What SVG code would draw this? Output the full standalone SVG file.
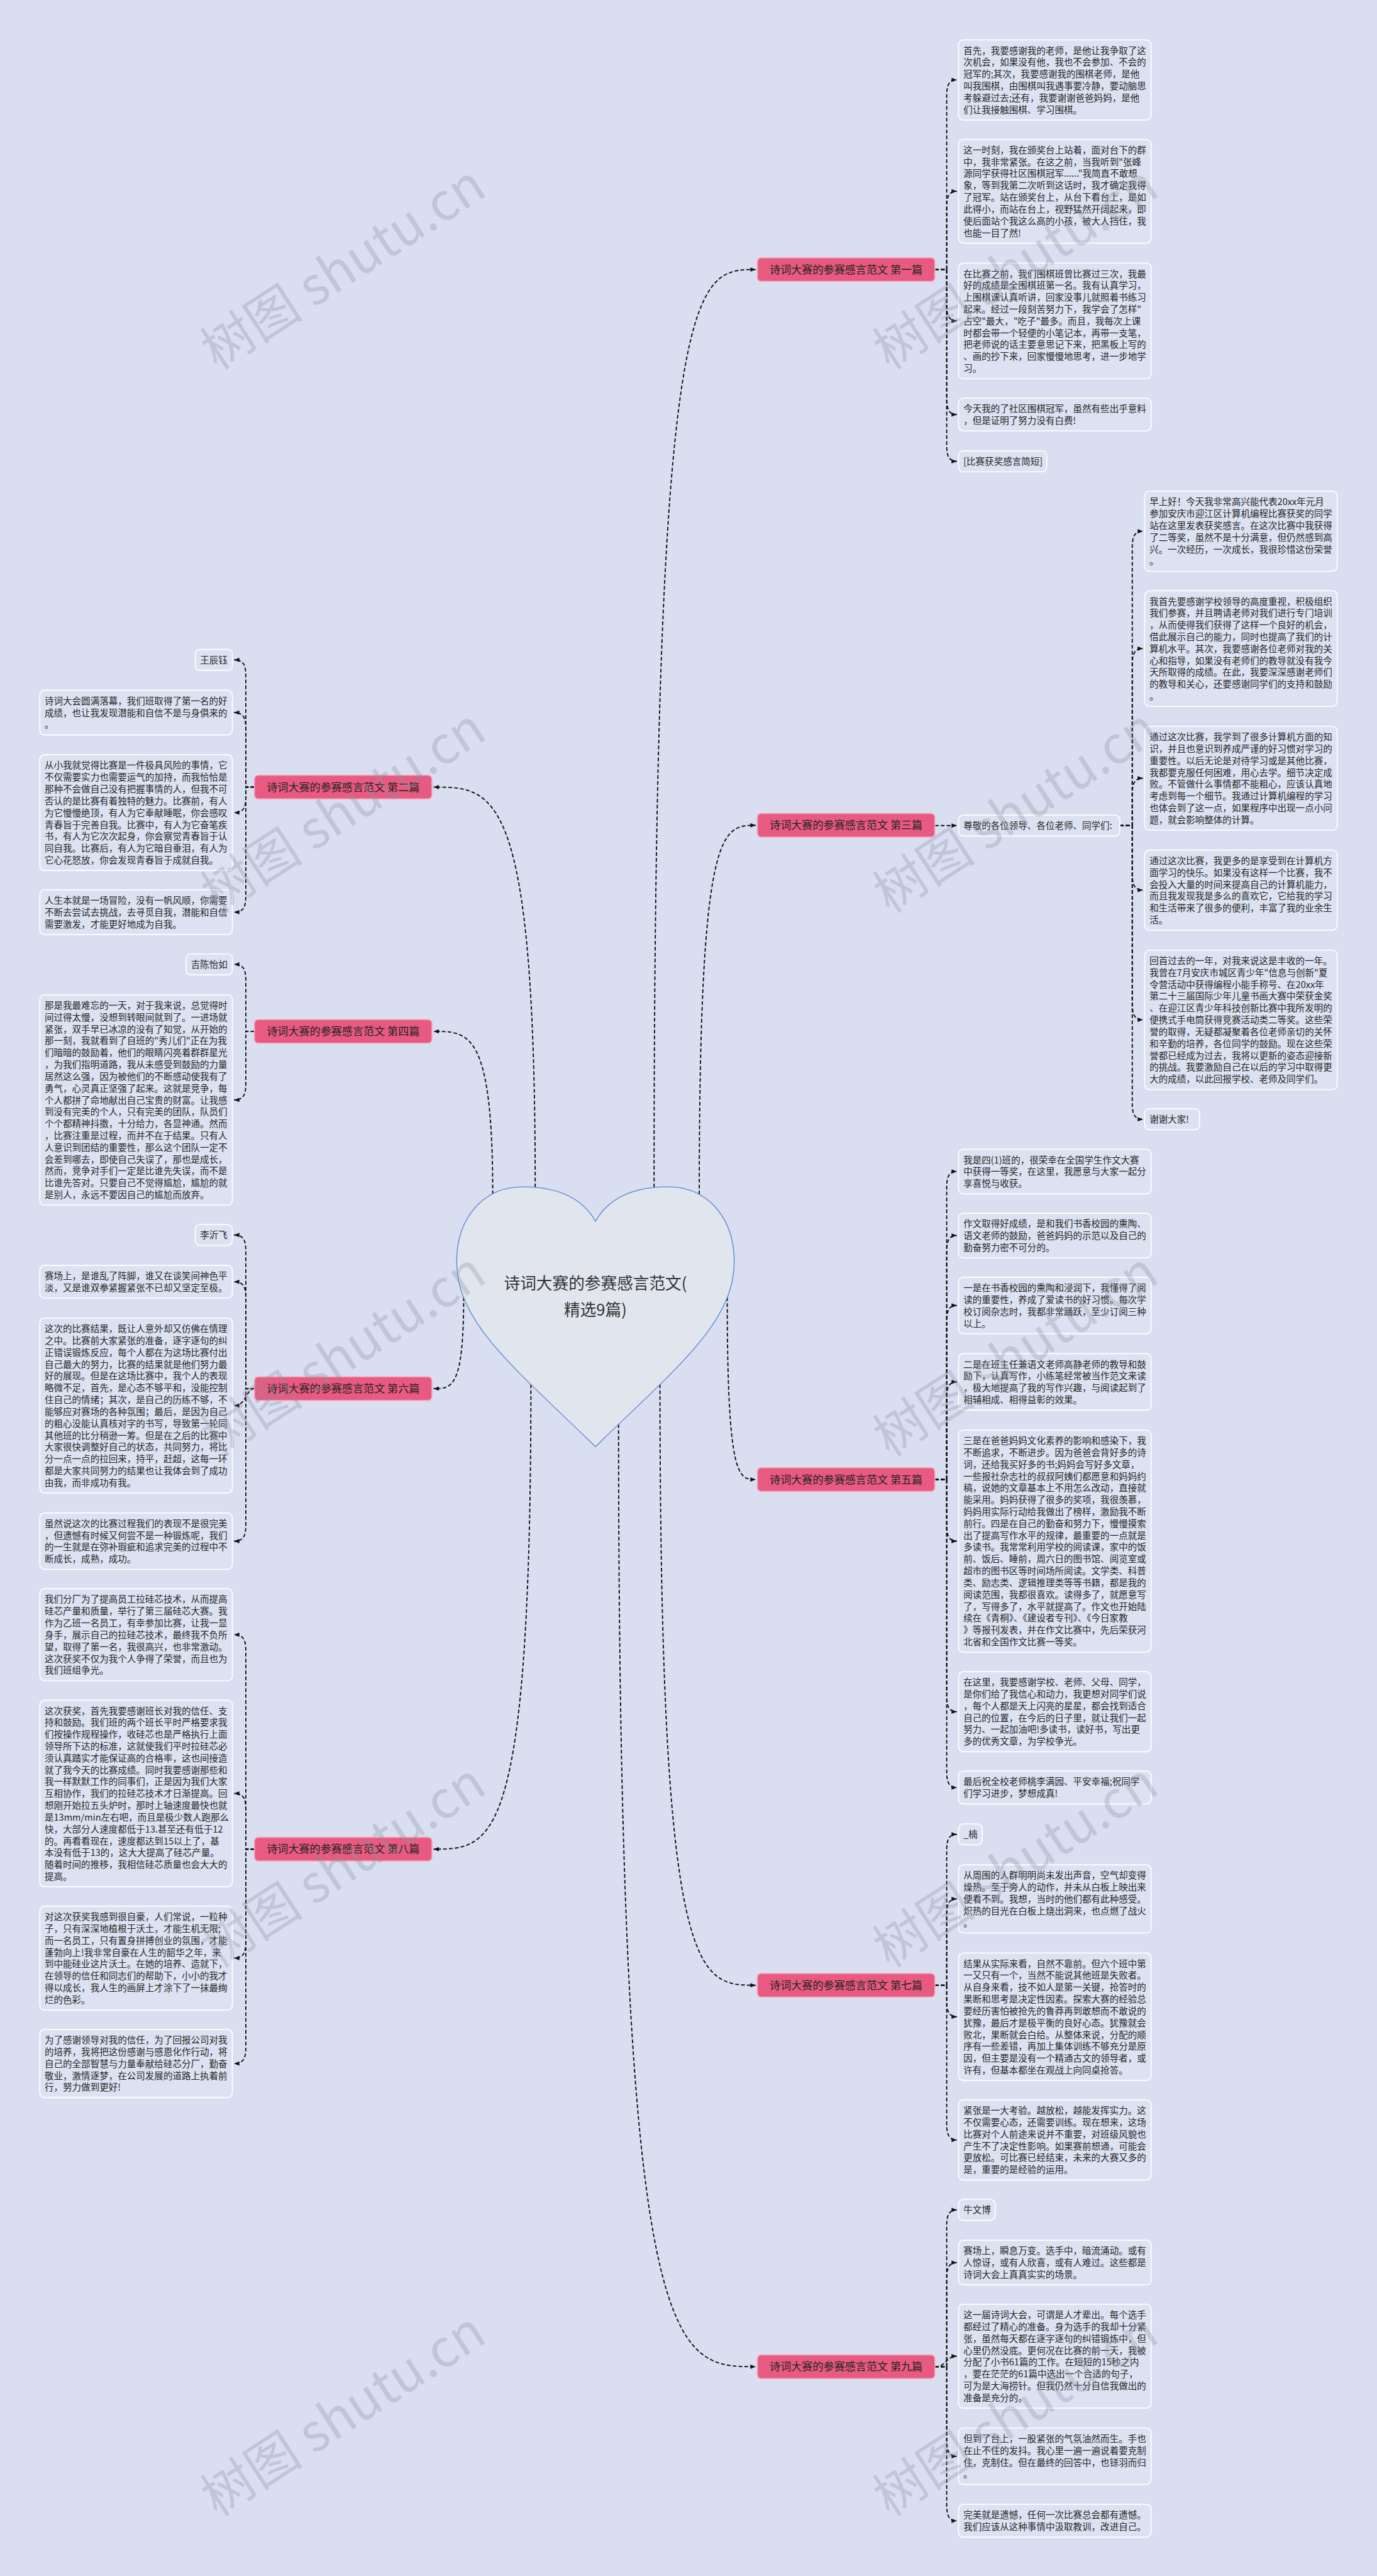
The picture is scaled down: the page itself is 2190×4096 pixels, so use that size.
<svg xmlns="http://www.w3.org/2000/svg" width="2190" height="4096" viewBox="0 0 2190 4096">
<style>
.bg{fill:#d9dff0}
.box{fill:#dce2f2;stroke:#ffffff;stroke-width:2}
.tx{font-family:"Noto Sans CJK SC","Noto Sans",sans-serif;font-size:17px;fill:#262626}
.lab rect{fill:#e85a80;stroke:#f5a9c0;stroke-width:2}
.lab text{font-family:"Noto Sans CJK SC","Noto Sans",sans-serif;font-size:20px;fill:#222222;text-anchor:middle}
.con path{fill:none;stroke:#111111;stroke-width:2.2;stroke-dasharray:7 4;marker-end:url(#ah)}
.ctr{font-family:"Noto Sans CJK SC","Noto Sans",sans-serif;font-size:30px;fill:#333333;text-anchor:middle}
.wm{font-family:"Noto Sans CJK SC","Liberation Sans",sans-serif;font-size:96px;fill:#8a90a0;opacity:0.3;text-anchor:middle}
</style>
<defs>
<marker id="ah" viewBox="0 0 10 8" refX="10" refY="4" markerWidth="10" markerHeight="8" markerUnits="userSpaceOnUse" orient="auto"><path d="M0,0 L10,4 L0,8 z" fill="#111111" stroke="none"/></marker>
</defs>
<rect class="bg" x="0" y="0" width="2190" height="4096"/>
<g transform="scale(0.85546875)">
<g id="connectors" class="con">
<path d="M1216 2207 C1216 501 1292 501 1405 501"/>
<path d="M1300 2220 C1300 1534 1342 1534 1405 1534"/>
<path d="M1352 2411 C1352 2750 1373 2750 1405 2750"/>
<path d="M1227 2573 C1227 3690 1298 3690 1405 3690"/>
<path d="M1150 2647 C1150 4399 1252 4399 1405 4399"/>
<path d="M995 2207 C995 1463 919 1463 806 1463"/>
<path d="M916 2220 C916 1917 872 1917 806 1917"/>
<path d="M862 2411 C862 2581 840 2581 806 2581"/>
<path d="M987 2573 C987 3437 915 3437 806 3437"/>
<path d="M1738 501 H1760 V178.5 C1760 158.5 1764 148.5 1779 148.5"/>
<path d="M1738 501 H1760 V385.5 C1760 365.5 1764 355.5 1779 355.5"/>
<path d="M1738 501 H1760 V566.5 C1760 586.5 1764 596.5 1779 596.5"/>
<path d="M1738 501 H1760 V740.5 C1760 760.5 1764 770.5 1779 770.5"/>
<path d="M1738 501 H1760 V827.5 C1760 847.5 1764 857.5 1779 857.5"/>
<path d="M1738 1534.5 L1779 1534.5"/>
<path d="M2082 1534.5 H2105 V1017.5 C2105 997.5 2109 987.5 2125 987.5"/>
<path d="M2082 1534.5 H2105 V1235.5 C2105 1215.5 2109 1205.5 2125 1205.5"/>
<path d="M2082 1534.5 H2105 V1476.5 C2105 1456.5 2109 1446.5 2125 1446.5"/>
<path d="M2082 1534.5 H2105 V1624.5 C2105 1644.5 2109 1654.5 2125 1654.5"/>
<path d="M2082 1534.5 H2105 V1865.5 C2105 1885.5 2109 1895.5 2125 1895.5"/>
<path d="M2082 1534.5 H2105 V2050.5 C2105 2070.5 2109 2080.5 2125 2080.5"/>
<path d="M1738 2750 H1760 V2207.5 C1760 2187.5 1764 2177.5 1779 2177.5"/>
<path d="M1738 2750 H1760 V2326.5 C1760 2306.5 1764 2296.5 1779 2296.5"/>
<path d="M1738 2750 H1760 V2456.5 C1760 2436.5 1764 2426.5 1779 2426.5"/>
<path d="M1738 2750 H1760 V2598.5 C1760 2578.5 1764 2568.5 1779 2568.5"/>
<path d="M1738 2750 H1760 V2834.5 C1760 2854.5 1764 2864.5 1779 2864.5"/>
<path d="M1738 2750 H1760 V3151.5 C1760 3171.5 1764 3181.5 1779 3181.5"/>
<path d="M1738 2750 H1760 V3292.5 C1760 3312.5 1764 3322.5 1779 3322.5"/>
<path d="M1738 3690 H1760 V3439.5 C1760 3419.5 1764 3409.5 1779 3409.5"/>
<path d="M1738 3690 H1760 V3559.5 C1760 3539.5 1764 3529.5 1779 3529.5"/>
<path d="M1738 3690 H1760 V3718.5 C1760 3738.5 1764 3748.5 1779 3748.5"/>
<path d="M1738 3690 H1760 V3947.5 C1760 3967.5 1764 3977.5 1779 3977.5"/>
<path d="M1738 4399 H1760 V4137.5 C1760 4117.5 1764 4107.5 1779 4107.5"/>
<path d="M1738 4399 H1760 V4235.5 C1760 4215.5 1764 4205.5 1779 4205.5"/>
<path d="M1738 4399 C1760 4399 1758 4379.5 1779 4379.5"/>
<path d="M1738 4399 H1760 V4535.5 C1760 4555.5 1764 4565.5 1779 4565.5"/>
<path d="M1738 4399 H1760 V4655.5 C1760 4675.5 1764 4685.5 1779 4685.5"/>
<path d="M473 1463 H457 V1256.5 C457 1236.5 453 1226.5 435 1226.5"/>
<path d="M473 1463 H457 V1354.5 C457 1334.5 453 1324.5 435 1324.5"/>
<path d="M473 1463 H457 V1480.5 C457 1500.5 453 1510.5 435 1510.5"/>
<path d="M473 1463 H457 V1665.5 C457 1685.5 453 1695.5 435 1695.5"/>
<path d="M473 1917 H457 V1822.5 C457 1802.5 453 1792.5 435 1792.5"/>
<path d="M473 1917 H457 V2014.5 C457 2034.5 453 2044.5 435 2044.5"/>
<path d="M473 2581 H457 V2325.5 C457 2305.5 453 2295.5 435 2295.5"/>
<path d="M473 2581 H457 V2412.5 C457 2392.5 453 2382.5 435 2382.5"/>
<path d="M473 2581 C457 2581 459 2612.5 435 2612.5"/>
<path d="M473 2581 H457 V2834.5 C457 2854.5 453 2864.5 435 2864.5"/>
<path d="M473 3437 H457 V3068.5 C457 3048.5 453 3038.5 435 3038.5"/>
<path d="M473 3437 H457 V3363.5 C457 3343.5 453 3333.5 435 3333.5"/>
<path d="M473 3437 H457 V3609.5 C457 3629.5 453 3639.5 435 3639.5"/>
<path d="M473 3437 H457 V3805.5 C457 3825.5 453 3835.5 435 3835.5"/>
</g>
<g id="center">
<path d="M1107 2270 C1080 2222 1030 2206 972 2206 C900 2206 849 2262 849 2345 C849 2460 960 2545 1107 2689 C1254 2545 1365 2460 1365 2345 C1365 2262 1314 2206 1242 2206 C1184 2206 1134 2222 1107 2270 Z" fill="#e1e5ee" stroke="#5b8ad0" stroke-width="1.6"/>
<text class="ctr" x="1107" y="2396">诗词大赛的参赛感言范文(</text>
<text class="ctr" x="1107" y="2445">精选9篇)</text>
</g>
<g id="label1" class="lab"><rect x="1408" y="479" width="330" height="44" rx="7"/><text x="1573" y="508">诗词大赛的参赛感言范文 第一篇</text></g>
<g id="label2" class="lab"><rect x="473" y="1441" width="330" height="44" rx="7"/><text x="638" y="1470">诗词大赛的参赛感言范文 第二篇</text></g>
<g id="label3" class="lab"><rect x="1408" y="1512" width="330" height="44" rx="7"/><text x="1573" y="1541">诗词大赛的参赛感言范文 第三篇</text></g>
<g id="label4" class="lab"><rect x="473" y="1895" width="330" height="44" rx="7"/><text x="638" y="1924">诗词大赛的参赛感言范文 第四篇</text></g>
<g id="label5" class="lab"><rect x="1408" y="2728" width="330" height="44" rx="7"/><text x="1573" y="2757">诗词大赛的参赛感言范文 第五篇</text></g>
<g id="label6" class="lab"><rect x="473" y="2559" width="330" height="44" rx="7"/><text x="638" y="2588">诗词大赛的参赛感言范文 第六篇</text></g>
<g id="label7" class="lab"><rect x="1408" y="3668" width="330" height="44" rx="7"/><text x="1573" y="3697">诗词大赛的参赛感言范文 第七篇</text></g>
<g id="label8" class="lab"><rect x="473" y="3415" width="330" height="44" rx="7"/><text x="638" y="3444">诗词大赛的参赛感言范文 第八篇</text></g>
<g id="label9" class="lab"><rect x="1408" y="4377" width="330" height="44" rx="7"/><text x="1573" y="4406">诗词大赛的参赛感言范文 第九篇</text></g>

<g id="c1"><rect class="box" x="1782" y="74" width="358" height="149" rx="9"/><text class="tx" y="100"><tspan x="1791">首先，我要感谢我的老师，是他让我争取了这</tspan><tspan x="1791" dy="22">次机会，如果没有他，我也不会参加、不会的</tspan><tspan x="1791" dy="22">冠军的;其次，我要感谢我的围棋老师，是他</tspan><tspan x="1791" dy="22">叫我围棋，由围棋叫我遇事要冷静，要动脑思</tspan><tspan x="1791" dy="22">考躲避过去;还有，我要谢谢爸爸妈妈，是他</tspan><tspan x="1791" dy="22">们让我接触围棋、学习围棋。</tspan></text></g>
<g id="c2"><rect class="box" x="1782" y="259" width="358" height="193" rx="9"/><text class="tx" y="285"><tspan x="1791">这一时刻，我在颁奖台上站着，面对台下的群</tspan><tspan x="1791" dy="22">中，我非常紧张。在这之前，当我听到"张峰</tspan><tspan x="1791" dy="22">源同学获得社区围棋冠军......"我简直不敢想</tspan><tspan x="1791" dy="22">象，等到我第二次听到这话时，我才确定我得</tspan><tspan x="1791" dy="22">了冠军。站在颁奖台上，从台下看台上，是如</tspan><tspan x="1791" dy="22">此得小，而站在台上，视野猛然开阔起来，即</tspan><tspan x="1791" dy="22">使后面站个我这么高的小孩，被大人挡住，我</tspan><tspan x="1791" dy="22">也能一目了然!</tspan></text></g>
<g id="c3"><rect class="box" x="1782" y="489" width="358" height="215" rx="9"/><text class="tx" y="515"><tspan x="1791">在比赛之前，我们围棋班曾比赛过三次，我最</tspan><tspan x="1791" dy="22">好的成绩是全围棋班第一名。我有认真学习，</tspan><tspan x="1791" dy="22">上围棋课认真听讲，回家没事儿就照着书练习</tspan><tspan x="1791" dy="22">起来。经过一段刻苦努力下，我学会了怎样"</tspan><tspan x="1791" dy="22">占空"最大，"吃子"最多。而且，我每次上课</tspan><tspan x="1791" dy="22">时都会带一个轻便的小笔记本，再带一支笔，</tspan><tspan x="1791" dy="22">把老师说的话主要意思记下来，把黑板上写的</tspan><tspan x="1791" dy="22">、画的抄下来，回家慢慢地思考，进一步地学</tspan><tspan x="1791" dy="22">习。</tspan></text></g>
<g id="c4"><rect class="box" x="1782" y="740" width="358" height="61" rx="9"/><text class="tx" y="766"><tspan x="1791">今天我的了社区围棋冠军，虽然有些出乎意料</tspan><tspan x="1791" dy="22">，但是证明了努力没有白费!</tspan></text></g>
<g id="c5"><rect class="box" x="1782" y="838" width="164" height="39" rx="9"/><text class="tx" y="864"><tspan x="1791">[比赛获奖感言简短]</tspan></text></g>

<g id="b0"><rect class="box" x="1782" y="1515" width="300" height="39" rx="9"/><text class="tx" y="1541"><tspan x="1791">尊敬的各位领导、各位老师、同学们:</tspan></text></g>
<g id="b1"><rect class="box" x="2128" y="913" width="358" height="149" rx="9"/><text class="tx" y="939"><tspan x="2137">早上好！今天我非常高兴能代表20xx年元月</tspan><tspan x="2137" dy="22">参加安庆市迎江区计算机编程比赛获奖的同学</tspan><tspan x="2137" dy="22">站在这里发表获奖感言。在这次比赛中我获得</tspan><tspan x="2137" dy="22">了二等奖，虽然不是十分满意，但仍然感到高</tspan><tspan x="2137" dy="22">兴。一次经历，一次成长，我很珍惜这份荣誉</tspan><tspan x="2137" dy="22">。</tspan></text></g>
<g id="b2"><rect class="box" x="2128" y="1098" width="358" height="215" rx="9"/><text class="tx" y="1124"><tspan x="2137">我首先要感谢学校领导的高度重视，积极组织</tspan><tspan x="2137" dy="22">我们参赛，并且聘请老师对我们进行专门培训</tspan><tspan x="2137" dy="22">，从而使得我们获得了这样一个良好的机会，</tspan><tspan x="2137" dy="22">借此展示自己的能力，同时也提高了我们的计</tspan><tspan x="2137" dy="22">算机水平。其次，我要感谢各位老师对我的关</tspan><tspan x="2137" dy="22">心和指导，如果没有老师们的教导就没有我今</tspan><tspan x="2137" dy="22">天所取得的成绩。在此，我要深深感谢老师们</tspan><tspan x="2137" dy="22">的教导和关心，还要感谢同学们的支持和鼓励</tspan><tspan x="2137" dy="22">。</tspan></text></g>
<g id="b3"><rect class="box" x="2128" y="1350" width="358" height="193" rx="9"/><text class="tx" y="1376"><tspan x="2137">通过这次比赛，我学到了很多计算机方面的知</tspan><tspan x="2137" dy="22">识，并且也意识到养成严谨的好习惯对学习的</tspan><tspan x="2137" dy="22">重要性。以后无论是对待学习或是其他比赛，</tspan><tspan x="2137" dy="22">我都要克服任何困难，用心去学。细节决定成</tspan><tspan x="2137" dy="22">败。不管做什么事情都不能粗心，应该认真地</tspan><tspan x="2137" dy="22">考虑到每一个细节。我通过计算机编程的学习</tspan><tspan x="2137" dy="22">也体会到了这一点，如果程序中出现一点小问</tspan><tspan x="2137" dy="22">题，就会影响整体的计算。</tspan></text></g>
<g id="b4"><rect class="box" x="2128" y="1580" width="358" height="149" rx="9"/><text class="tx" y="1606"><tspan x="2137">通过这次比赛，我更多的是享受到在计算机方</tspan><tspan x="2137" dy="22">面学习的快乐。如果没有这样一个比赛，我不</tspan><tspan x="2137" dy="22">会投入大量的时间来提高自己的计算机能力，</tspan><tspan x="2137" dy="22">而且我发现我是多么的喜欢它，它给我的学习</tspan><tspan x="2137" dy="22">和生活带来了很多的便利，丰富了我的业余生</tspan><tspan x="2137" dy="22">活。</tspan></text></g>
<g id="b5"><rect class="box" x="2128" y="1766" width="358" height="259" rx="9"/><text class="tx" y="1792"><tspan x="2137">回首过去的一年，对我来说这是丰收的一年。</tspan><tspan x="2137" dy="22">我曾在7月安庆市城区青少年"信息与创新"夏</tspan><tspan x="2137" dy="22">令营活动中获得编程小能手称号、在20xx年</tspan><tspan x="2137" dy="22">第二十三届国际少年儿童书画大赛中荣获金奖</tspan><tspan x="2137" dy="22">、在迎江区青少年科技创新比赛中我所发明的</tspan><tspan x="2137" dy="22">便携式手电筒获得竞赛活动类二等奖。这些荣</tspan><tspan x="2137" dy="22">誉的取得，无疑都凝聚着各位老师亲切的关怀</tspan><tspan x="2137" dy="22">和辛勤的培养，各位同学的鼓励。现在这些荣</tspan><tspan x="2137" dy="22">誉都已经成为过去，我将以更新的姿态迎接新</tspan><tspan x="2137" dy="22">的挑战。我要激励自己在以后的学习中取得更</tspan><tspan x="2137" dy="22">大的成绩，以此回报学校、老师及同学们。</tspan></text></g>
<g id="b6"><rect class="box" x="2128" y="2061" width="102" height="39" rx="9"/><text class="tx" y="2087"><tspan x="2137">谢谢大家!</tspan></text></g>

<g id="d1"><rect class="box" x="1782" y="2136" width="358" height="83" rx="9"/><text class="tx" y="2162"><tspan x="1791">我是四(1)班的，很荣幸在全国学生作文大赛</tspan><tspan x="1791" dy="22">中获得一等奖，在这里，我愿意与大家一起分</tspan><tspan x="1791" dy="22">享喜悦与收获。</tspan></text></g>
<g id="d2"><rect class="box" x="1782" y="2255" width="358" height="83" rx="9"/><text class="tx" y="2281"><tspan x="1791">作文取得好成绩，是和我们书香校园的熏陶、</tspan><tspan x="1791" dy="22">语文老师的鼓励，爸爸妈妈的示范以及自己的</tspan><tspan x="1791" dy="22">勤奋努力密不可分的。</tspan></text></g>
<g id="d3"><rect class="box" x="1782" y="2374" width="358" height="105" rx="9"/><text class="tx" y="2400"><tspan x="1791">一是在书香校园的熏陶和浸润下，我懂得了阅</tspan><tspan x="1791" dy="22">读的重要性，养成了爱读书的好习惯。每次学</tspan><tspan x="1791" dy="22">校订阅杂志时，我都非常踊跃，至少订阅三种</tspan><tspan x="1791" dy="22">以上。</tspan></text></g>
<g id="d4"><rect class="box" x="1782" y="2516" width="358" height="105" rx="9"/><text class="tx" y="2542"><tspan x="1791">二是在班主任兼语文老师高静老师的教导和鼓</tspan><tspan x="1791" dy="22">励下，认真写作，小练笔经常被当作范文来读</tspan><tspan x="1791" dy="22">，极大地提高了我的写作兴趣，与阅读起到了</tspan><tspan x="1791" dy="22">相辅相成、相得益彰的效果。</tspan></text></g>
<g id="d5"><rect class="box" x="1782" y="2658" width="358" height="413" rx="9"/><text class="tx" y="2684"><tspan x="1791">三是在爸爸妈妈文化素养的影响和感染下，我</tspan><tspan x="1791" dy="22">不断追求，不断进步。因为爸爸会背好多的诗</tspan><tspan x="1791" dy="22">词，还给我买好多的书;妈妈会写好多文章，</tspan><tspan x="1791" dy="22">一些报社杂志社的叔叔阿姨们都愿意和妈妈约</tspan><tspan x="1791" dy="22">稿，说她的文章基本上不用怎么改动，直接就</tspan><tspan x="1791" dy="22">能采用。妈妈获得了很多的奖项，我很羡慕，</tspan><tspan x="1791" dy="22">妈妈用实际行动给我做出了榜样，激励我不断</tspan><tspan x="1791" dy="22">前行。四是在自己的勤奋和努力下，慢慢摸索</tspan><tspan x="1791" dy="22">出了提高写作水平的规律，最重要的一点就是</tspan><tspan x="1791" dy="22">多读书。我常常利用学校的阅读课，家中的饭</tspan><tspan x="1791" dy="22">前、饭后、睡前，周六日的图书馆、阅览室或</tspan><tspan x="1791" dy="22">超市的图书区等时间场所阅读。文学类、科普</tspan><tspan x="1791" dy="22">类、励志类、逻辑推理类等等书籍，都是我的</tspan><tspan x="1791" dy="22">阅读范围，我都很喜欢。读得多了，就愿意写</tspan><tspan x="1791" dy="22">了，写得多了，水平就提高了。作文也开始陆</tspan><tspan x="1791" dy="22">续在《青桐》、《建设者专刊》、《今日家教</tspan><tspan x="1791" dy="22">》等报刊发表，并在作文比赛中，先后荣获河</tspan><tspan x="1791" dy="22">北省和全国作文比赛一等奖。</tspan></text></g>
<g id="d6"><rect class="box" x="1782" y="3107" width="358" height="149" rx="9"/><text class="tx" y="3133"><tspan x="1791">在这里，我要感谢学校、老师、父母、同学，</tspan><tspan x="1791" dy="22">是你们给了我信心和动力，我更想对同学们说</tspan><tspan x="1791" dy="22">，每个人都是天上闪亮的星星，都会找到适合</tspan><tspan x="1791" dy="22">自己的位置，在今后的日子里，就让我们一起</tspan><tspan x="1791" dy="22">努力、一起加油吧!多读书，读好书，写出更</tspan><tspan x="1791" dy="22">多的优秀文章，为学校争光。</tspan></text></g>
<g id="d7"><rect class="box" x="1782" y="3292" width="358" height="61" rx="9"/><text class="tx" y="3318"><tspan x="1791">最后祝全校老师桃李满园、平安幸福;祝同学</tspan><tspan x="1791" dy="22">们学习进步，梦想成真!</tspan></text></g>

<g id="e1"><rect class="box" x="1782" y="3390" width="44" height="39" rx="9"/><text class="tx" y="3416"><tspan x="1791">_楠</tspan></text></g>
<g id="e2"><rect class="box" x="1782" y="3466" width="358" height="127" rx="9"/><text class="tx" y="3492"><tspan x="1791">从周围的人群明明尚未发出声音，空气却变得</tspan><tspan x="1791" dy="22">燥热。至于旁人的动作，并未从白板上映出来</tspan><tspan x="1791" dy="22">便看不到。我想，当时的他们都有此种感受。</tspan><tspan x="1791" dy="22">炽热的目光在白板上烧出洞来，也点燃了战火</tspan><tspan x="1791" dy="22">。</tspan></text></g>
<g id="e3"><rect class="box" x="1782" y="3630" width="358" height="237" rx="9"/><text class="tx" y="3656"><tspan x="1791">结果从实际来看，自然不靠前。但六个班中第</tspan><tspan x="1791" dy="22">一又只有一个，当然不能说其他班是失败者。</tspan><tspan x="1791" dy="22">从自身来看，技不如人是第一关键，抢答时的</tspan><tspan x="1791" dy="22">果断和思考是决定性因素。探索大赛的经验总</tspan><tspan x="1791" dy="22">要经历害怕被抢先的鲁莽再到敢想而不敢说的</tspan><tspan x="1791" dy="22">犹豫，最后才是极平衡的良好心态。犹豫就会</tspan><tspan x="1791" dy="22">败北，果断就会白给。从整体来说，分配的顺</tspan><tspan x="1791" dy="22">序有一些差错，再加上集体训练不够充分是原</tspan><tspan x="1791" dy="22">因，但主要是没有一个精通古文的领导者，或</tspan><tspan x="1791" dy="22">许有，但基本都坐在观战上向同桌抢答。</tspan></text></g>
<g id="e4"><rect class="box" x="1782" y="3903" width="358" height="149" rx="9"/><text class="tx" y="3929"><tspan x="1791">紧张是一大考验。越放松，越能发挥实力。这</tspan><tspan x="1791" dy="22">不仅需要心态，还需要训练。现在想来，这场</tspan><tspan x="1791" dy="22">比赛对个人前途来说并不重要，对班级风貌也</tspan><tspan x="1791" dy="22">产生不了决定性影响。如果赛前想通，可能会</tspan><tspan x="1791" dy="22">更放松。可比赛已经结束，未来的大赛又多的</tspan><tspan x="1791" dy="22">是，重要的是经验的运用。</tspan></text></g>

<g id="f1"><rect class="box" x="1782" y="4088" width="68" height="39" rx="9"/><text class="tx" y="4114"><tspan x="1791">牛文博</tspan></text></g>
<g id="f2"><rect class="box" x="1782" y="4164" width="358" height="83" rx="9"/><text class="tx" y="4190"><tspan x="1791">赛场上，瞬息万变。选手中，暗流涌动。或有</tspan><tspan x="1791" dy="22">人惊讶，或有人欣喜，或有人难过。这些都是</tspan><tspan x="1791" dy="22">诗词大会上真真实实的场景。</tspan></text></g>
<g id="f3"><rect class="box" x="1782" y="4283" width="358" height="193" rx="9"/><text class="tx" y="4309"><tspan x="1791">这一届诗词大会，可谓是人才辈出。每个选手</tspan><tspan x="1791" dy="22">都经过了精心的准备。身为选手的我却十分紧</tspan><tspan x="1791" dy="22">张，虽然每天都在逐字逐句的纠错锻炼中，但</tspan><tspan x="1791" dy="22">心里仍然没底。更何况在比赛的前一天，我被</tspan><tspan x="1791" dy="22">分配了小书61篇的工作。在短短的15秒之内</tspan><tspan x="1791" dy="22">，要在茫茫的61篇中选出一个合适的句子，</tspan><tspan x="1791" dy="22">可为是大海捞针。但我仍然十分自信我做出的</tspan><tspan x="1791" dy="22">准备是充分的。</tspan></text></g>
<g id="f4"><rect class="box" x="1782" y="4513" width="358" height="105" rx="9"/><text class="tx" y="4539"><tspan x="1791">但到了台上，一股紧张的气氛油然而生。手也</tspan><tspan x="1791" dy="22">在止不住的发抖。我心里一遍一遍说着要克制</tspan><tspan x="1791" dy="22">住，克制住。但在最终的回答中，也铩羽而归</tspan><tspan x="1791" dy="22">。</tspan></text></g>
<g id="f5"><rect class="box" x="1782" y="4655" width="358" height="61" rx="9"/><text class="tx" y="4681"><tspan x="1791">完美就是遗憾，任何一次比赛总会都有遗憾。</tspan><tspan x="1791" dy="22">我们应该从这种事情中汲取教训，改进自己。</tspan></text></g>

<g id="g1"><rect class="box" x="363" y="1207" width="69" height="39" rx="9"/><text class="tx" y="1233"><tspan x="372">王辰钰</tspan></text></g>
<g id="g2"><rect class="box" x="74" y="1283" width="358" height="83" rx="9"/><text class="tx" y="1309"><tspan x="83">诗词大会圆满落幕，我们班取得了第一名的好</tspan><tspan x="83" dy="22">成绩，也让我发现潜能和自信不是与身俱来的</tspan><tspan x="83" dy="22">。</tspan></text></g>
<g id="g3"><rect class="box" x="74" y="1403" width="358" height="215" rx="9"/><text class="tx" y="1429"><tspan x="83">从小我就觉得比赛是一件极具风险的事情，它</tspan><tspan x="83" dy="22">不仅需要实力也需要运气的加持，而我恰恰是</tspan><tspan x="83" dy="22">那种不会做自己没有把握事情的人，但我不可</tspan><tspan x="83" dy="22">否认的是比赛有着独特的魅力。比赛前，有人</tspan><tspan x="83" dy="22">为它慢慢绝顶，有人为它奉献睡眠，你会感叹</tspan><tspan x="83" dy="22">青春旨于完善自我。比赛中，有人为它奋笔疾</tspan><tspan x="83" dy="22">书，有人为它次次起身，你会察觉青春旨于认</tspan><tspan x="83" dy="22">同自我。比赛后，有人为它暗自垂泪，有人为</tspan><tspan x="83" dy="22">它心花怒放，你会发现青春旨于成就自我。</tspan></text></g>
<g id="g4"><rect class="box" x="74" y="1654" width="358" height="83" rx="9"/><text class="tx" y="1680"><tspan x="83">人生本就是一场冒险，没有一帆风顺，你需要</tspan><tspan x="83" dy="22">不断去尝试去挑战，去寻觅自我，潜能和自信</tspan><tspan x="83" dy="22">需要激发，才能更好地成为自我。</tspan></text></g>

<g id="h1"><rect class="box" x="346" y="1773" width="86" height="39" rx="9"/><text class="tx" y="1799"><tspan x="355">吉陈怡如</tspan></text></g>
<g id="h2"><rect class="box" x="74" y="1849" width="358" height="391" rx="9"/><text class="tx" y="1875"><tspan x="83">那是我最难忘的一天，对于我来说，总觉得时</tspan><tspan x="83" dy="22">间过得太慢，没想到转眼间就到了。一进场就</tspan><tspan x="83" dy="22">紧张，双手早已冰凉的没有了知觉，从开始的</tspan><tspan x="83" dy="22">那一刻，我就看到了自班的"秀儿们"正在为我</tspan><tspan x="83" dy="22">们暗暗的鼓励着，他们的眼睛闪亮着群群星光</tspan><tspan x="83" dy="22">，为我们指明道路，我从未感受到鼓励的力量</tspan><tspan x="83" dy="22">居然这么强，因为被他们的不断感动使我有了</tspan><tspan x="83" dy="22">勇气，心灵真正坚强了起来。这就是竞争，每</tspan><tspan x="83" dy="22">个人都拼了命地献出自己宝贵的财富。让我感</tspan><tspan x="83" dy="22">到没有完美的个人，只有完美的团队，队员们</tspan><tspan x="83" dy="22">个个都精神抖擞，十分给力，各显神通。然而</tspan><tspan x="83" dy="22">，比赛注重是过程，而并不在于结果。只有人</tspan><tspan x="83" dy="22">人意识到团结的重要性，那么这个团队一定不</tspan><tspan x="83" dy="22">会差到哪去，即使自己失误了，那也是成长，</tspan><tspan x="83" dy="22">然而，竞争对手们一定是比谁先失误，而不是</tspan><tspan x="83" dy="22">比谁先答对。只要自己不觉得尴尬，尴尬的就</tspan><tspan x="83" dy="22">是别人，永远不要因自己的尴尬而放弃。</tspan></text></g>

<g id="i1"><rect class="box" x="363" y="2276" width="69" height="39" rx="9"/><text class="tx" y="2302"><tspan x="372">李沂飞</tspan></text></g>
<g id="i2"><rect class="box" x="74" y="2352" width="358" height="61" rx="9"/><text class="tx" y="2378"><tspan x="83">赛场上，是谁乱了阵脚，谁又在谈笑间神色平</tspan><tspan x="83" dy="22">淡，又是谁双拳紧握紧张不已却又坚定至极。</tspan></text></g>
<g id="i3"><rect class="box" x="74" y="2450" width="358" height="325" rx="9"/><text class="tx" y="2476"><tspan x="83">这次的比赛结果，既让人意外却又仿佛在情理</tspan><tspan x="83" dy="22">之中。比赛前大家紧张的准备，逐字逐句的纠</tspan><tspan x="83" dy="22">正错误锻炼反应，每个人都在为这场比赛付出</tspan><tspan x="83" dy="22">自己最大的努力，比赛的结果就是他们努力最</tspan><tspan x="83" dy="22">好的展现。但是在这场比赛中，我个人的表现</tspan><tspan x="83" dy="22">略微不足，首先，是心态不够平和，没能控制</tspan><tspan x="83" dy="22">住自己的情绪；其次，是自己的历练不够，不</tspan><tspan x="83" dy="22">能够应对赛场的各种氛围；最后，是因为自己</tspan><tspan x="83" dy="22">的粗心没能认真核对字的书写，导致第一轮同</tspan><tspan x="83" dy="22">其他班的比分稍逊一筹。但是在之后的比赛中</tspan><tspan x="83" dy="22">大家很快调整好自己的状态，共同努力，将比</tspan><tspan x="83" dy="22">分一点一点的拉回来，持平，赶超，这每一环</tspan><tspan x="83" dy="22">都是大家共同努力的结果也让我体会到了成功</tspan><tspan x="83" dy="22">由我，而非成功有我。</tspan></text></g>
<g id="i4"><rect class="box" x="74" y="2812" width="358" height="105" rx="9"/><text class="tx" y="2838"><tspan x="83">虽然说这次的比赛过程我们的表现不是很完美</tspan><tspan x="83" dy="22">，但遗憾有时候又何尝不是一种锻炼呢，我们</tspan><tspan x="83" dy="22">的一生就是在弥补瑕疵和追求完美的过程中不</tspan><tspan x="83" dy="22">断成长，成熟，成功。</tspan></text></g>

<g id="j1"><rect class="box" x="74" y="2953" width="358" height="171" rx="9"/><text class="tx" y="2979"><tspan x="83">我们分厂为了提高员工拉硅芯技术，从而提高</tspan><tspan x="83" dy="22">硅芯产量和质量，举行了第三届硅芯大赛。我</tspan><tspan x="83" dy="22">作为乙班一名员工，有幸参加比赛，让我一显</tspan><tspan x="83" dy="22">身手，展示自己的拉硅芯技术，最终我不负所</tspan><tspan x="83" dy="22">望，取得了第一名，我很高兴，也非常激动。</tspan><tspan x="83" dy="22">这次获奖不仅为我个人争得了荣誉，而且也为</tspan><tspan x="83" dy="22">我们班组争光。</tspan></text></g>
<g id="j2"><rect class="box" x="74" y="3160" width="358" height="347" rx="9"/><text class="tx" y="3186"><tspan x="83">这次获奖，首先我要感谢班长对我的信任、支</tspan><tspan x="83" dy="22">持和鼓励。我们班的两个班长平时严格要求我</tspan><tspan x="83" dy="22">们按操作规程操作，收硅芯也是严格执行上面</tspan><tspan x="83" dy="22">领导所下达的标准，这就使我们平时拉硅芯必</tspan><tspan x="83" dy="22">须认真踏实才能保证高的合格率，这也间接造</tspan><tspan x="83" dy="22">就了我今天的比赛成绩。同时我要感谢那些和</tspan><tspan x="83" dy="22">我一样默默工作的同事们，正是因为我们大家</tspan><tspan x="83" dy="22">互相协作，我们的拉硅芯技术才日渐提高。回</tspan><tspan x="83" dy="22">想刚开始拉五头炉时，那时上轴速度最快也就</tspan><tspan x="83" dy="22">是13mm/min左右吧，而且是极少数人跑那么</tspan><tspan x="83" dy="22">快，大部分人速度都低于13.甚至还有低于12</tspan><tspan x="83" dy="22">的。再看看现在，速度都达到15以上了，基</tspan><tspan x="83" dy="22">本没有低于13的，这大大提高了硅芯产量。</tspan><tspan x="83" dy="22">随着时间的推移，我相信硅芯质量也会大大的</tspan><tspan x="83" dy="22">提高。</tspan></text></g>
<g id="j3"><rect class="box" x="74" y="3543" width="358" height="193" rx="9"/><text class="tx" y="3569"><tspan x="83">对这次获奖我感到很自豪，人们常说，一粒种</tspan><tspan x="83" dy="22">子，只有深深地植根于沃土，才能生机无限;</tspan><tspan x="83" dy="22">而一名员工，只有置身拼搏创业的氛围，才能</tspan><tspan x="83" dy="22">蓬勃向上!我非常自豪在人生的韶华之年，来</tspan><tspan x="83" dy="22">到中能硅业这片沃土。在她的培养、造就下，</tspan><tspan x="83" dy="22">在领导的信任和同志们的帮助下，小小的我才</tspan><tspan x="83" dy="22">得以成长，我人生的画屏上才涂下了一抹最绚</tspan><tspan x="83" dy="22">烂的色彩。</tspan></text></g>
<g id="j4"><rect class="box" x="74" y="3772" width="358" height="127" rx="9"/><text class="tx" y="3798"><tspan x="83">为了感谢领导对我的信任，为了回报公司对我</tspan><tspan x="83" dy="22">的培养，我将把这份感谢与感恩化作行动，将</tspan><tspan x="83" dy="22">自己的全部智慧与力量奉献给硅芯分厂，勤奋</tspan><tspan x="83" dy="22">敬业，激情逐梦，在公司发展的道路上执着前</tspan><tspan x="83" dy="22">行，努力做到更好!</tspan></text></g>

<g id="watermark">
<text class="wm" x="640" y="530" transform="rotate(-33 640 500)">树图 shutu.cn</text>
<text class="wm" x="1890" y="530" transform="rotate(-33 1890 500)">树图 shutu.cn</text>
<text class="wm" x="640" y="1540" transform="rotate(-33 640 1510)">树图 shutu.cn</text>
<text class="wm" x="1890" y="1540" transform="rotate(-33 1890 1510)">树图 shutu.cn</text>
<text class="wm" x="640" y="2550" transform="rotate(-33 640 2520)">树图 shutu.cn</text>
<text class="wm" x="1890" y="2550" transform="rotate(-33 1890 2520)">树图 shutu.cn</text>
<text class="wm" x="640" y="3500" transform="rotate(-33 640 3470)">树图 shutu.cn</text>
<text class="wm" x="1890" y="3500" transform="rotate(-33 1890 3470)">树图 shutu.cn</text>
<text class="wm" x="640" y="4520" transform="rotate(-33 640 4490)">树图 shutu.cn</text>
<text class="wm" x="1890" y="4520" transform="rotate(-33 1890 4490)">树图 shutu.cn</text>
</g>
</g>
</svg>
